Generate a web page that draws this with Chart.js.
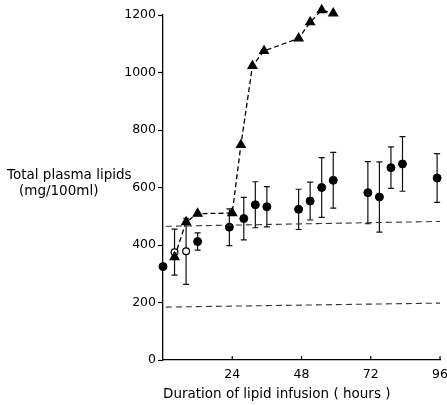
<!DOCTYPE html>
<html><head><meta charset="utf-8">
<script src="https://cdn.jsdelivr.net/npm/chart.js@4/dist/chart.umd.min.js"></script>
<style>html,body{margin:0;padding:0;background:#fff}#wrap{width:447px;height:405px}</style>
</head><body><div id="wrap"><canvas id="c" width="447" height="405"></canvas></div>
<script>
// Filled circles (mean ± error)
const dotHours = [0, 12, 23, 28, 32, 36, 47, 51, 55, 59, 71, 75, 79, 83, 95];
const dotMeans = [325, 412, 462, 492, 540, 533, 524, 553, 600, 625, 582, 567, 669, 682, 633];
const dotErr   = [0, 30, 64, 74, 80, 70, 70, 66, 104, 97, 108, 122, 72, 95, 85];
// Open circles
const openHours = [4, 8];
const openMeans = [375, 378];
const openErr   = [80, 115];
// Triangles (dashed line)
const triHours = [4, 8, 12, 24, 27, 31, 35, 47, 51, 55, 59];
const triMeans = [358, 480, 509, 511, 748, 1023, 1075, 1119, 1175, 1217, 1206];
// Reference dashed lines
const refHours = [1, 96];
const upperRef = [465, 482];
const lowerRef = [184, 198];
// Ticks
const xTicks = [24, 48, 72, 96];
const yTicks = [0, 200, 400, 600, 800, 1000, 1200];
const yTitle = ["Total plasma lipids", "(mg/100ml)"];
const xTitle = "Duration of lipid infusion ( hours )";

const pts = (xs, ys) => xs.map((x, i) => ({x: x, y: ys[i]}));
const FONT = "'DejaVu Sans', sans-serif";

const errPlugin = {
  id: 'err',
  beforeDatasetsDraw(chart) {
    const ctx = chart.ctx, xs = chart.scales.x, ys = chart.scales.y;
    ctx.save();
    ctx.strokeStyle = '#111'; ctx.lineWidth = 1.2;
    chart.data.datasets.forEach(ds => {
      if (!ds.err) return;
      ds.data.forEach((p, i) => {
        const e = ds.err[i]; if (!e) return;
        const px = xs.getPixelForValue(p.x);
        const top = ys.getPixelForValue(p.y + e), bot = ys.getPixelForValue(p.y - e);
        ctx.beginPath();
        ctx.moveTo(px, top); ctx.lineTo(px, bot);
        ctx.moveTo(px - 3, top); ctx.lineTo(px + 3, top);
        ctx.moveTo(px - 3, bot); ctx.lineTo(px + 3, bot);
        ctx.stroke();
      });
    });
    ctx.restore();
  },
  afterDraw(chart) {
    const ctx = chart.ctx, xs = chart.scales.x, ys = chart.scales.y;
    ctx.save();
    ctx.strokeStyle = '#000'; ctx.lineWidth = 1.2;
    const y0 = ys.getPixelForValue(0);
    xTicks.forEach(t => {
      const px = xs.getPixelForValue(t);
      ctx.beginPath(); ctx.moveTo(px, y0); ctx.lineTo(px, y0 - 4); ctx.stroke();
    });
    ctx.fillStyle = '#000';
    ctx.font = "13.5px " + FONT;
    ctx.textBaseline = 'alphabetic';
    ctx.textAlign = 'left';
    ctx.fillText(yTitle[0], 7, 179);
    ctx.fillText(yTitle[1], 19, 195);
    ctx.fillText(xTitle, 163, 398);
    ctx.restore();
  }
};

new Chart(document.getElementById('c'), {
  type: 'scatter',
  data: {
    datasets: [
      {data: pts(refHours, upperRef), showLine: true, borderColor: '#333', borderWidth: 1.1, borderDash: [6, 4], pointRadius: 0},
      {data: pts(refHours, lowerRef), showLine: true, borderColor: '#333', borderWidth: 1.1, borderDash: [6, 4], pointRadius: 0},
      {data: pts(triHours, triMeans), showLine: true, borderColor: '#000', borderWidth: 1.3, borderDash: [5, 3],
       pointStyle: 'triangle', pointRadius: 5, backgroundColor: '#000', pointBorderColor: '#000', clip: false},
      {data: pts(openHours, openMeans), err: openErr, pointStyle: 'circle', pointRadius: 3.4,
       backgroundColor: '#fff', pointBorderColor: '#000', borderColor: '#000', pointBorderWidth: 1.2, clip: false},
      {data: pts(dotHours, dotMeans), err: dotErr, pointStyle: 'circle', pointRadius: 4,
       backgroundColor: '#000', pointBorderColor: '#000', borderColor: '#000', clip: false}
    ]
  },
  options: {
    responsive: false, animation: false,
    layout: {padding: {left: 0, right: 7, top: 15, bottom: 0}},
    plugins: {legend: {display: false}, tooltip: {enabled: false}},
    scales: {
      x: {
        type: 'linear', min: 0, max: 96,
        afterBuildTicks: s => { s.ticks = xTicks.map(v => ({value: v})); },
        afterFit: s => { s.height = 45; s.paddingRight = 0; s.paddingLeft = 0; },
        grid: {display: true, drawOnChartArea: false, drawTicks: false},
        border: {color: '#000', width: 1.3},
        ticks: {color: '#000', font: {family: FONT, size: 12.5}, padding: 7, maxRotation: 0,
                callback: v => String(v)}
      },
      y: {
        type: 'linear', min: 0, max: 1200,
        afterBuildTicks: s => { s.ticks = yTicks.map(v => ({value: v})); },
        afterFit: s => { s.width = 163; s.paddingTop = 0; s.paddingBottom = 0; },
        grid: {display: true, drawOnChartArea: false, drawTicks: true, tickLength: 5, color: '#000', tickWidth: 1.2},
        border: {color: '#000', width: 1.3},
        ticks: {color: '#000', font: {family: FONT, size: 12.5}, padding: 2, callback: v => String(v)}
      }
    }
  },
  plugins: [errPlugin]
});
</script>
</body></html>
